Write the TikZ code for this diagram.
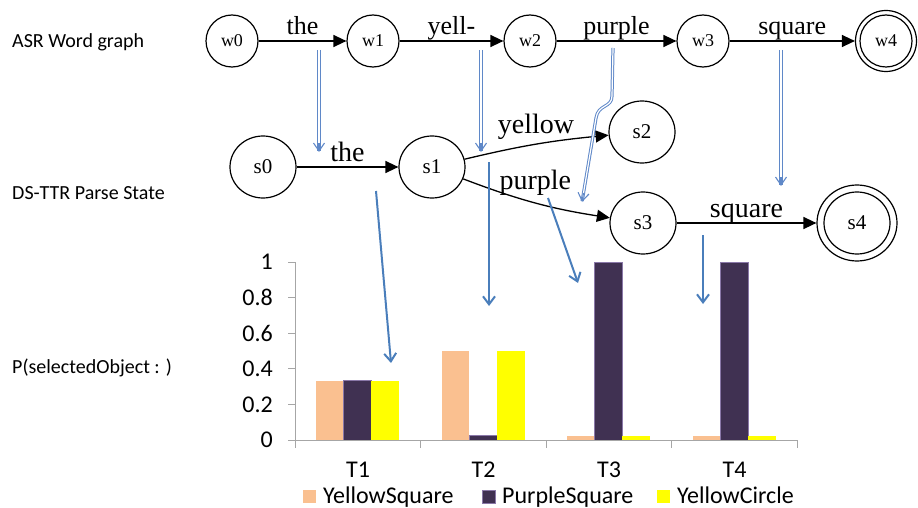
\documentclass[tikz,border=0pt]{standalone}
\usepackage{fontspec}
\setmainfont{Liberation Serif}
\newfontfamily\calfont{Carlito}
\usetikzlibrary{arrows.meta,shapes.geometric,calc}
\definecolor{barA}{HTML}{FAC090}
\definecolor{barB}{HTML}{403152}
\definecolor{barBedge}{HTML}{8A78A8}
\definecolor{barC}{HTML}{FFFF00}
\definecolor{arrblue}{HTML}{4A7EBB}
\definecolor{dblue}{HTML}{5F88C8}
\definecolor{axgray}{HTML}{A6A6A6}
\begin{document}
\begin{tikzpicture}[x=1pt,y=-1pt,
  wst/.style={circle,draw,line width=1.2pt,minimum size=52pt,inner sep=0pt,font=\fontsize{18}{18}\selectfont},
  wouter/.style={circle,draw,line width=1.2pt,minimum size=61pt,inner sep=0pt},
  sst/.style={ellipse,draw,line width=1.2pt,minimum width=66pt,minimum height=62pt,inner sep=0pt,font=\fontsize{21}{21}\selectfont},
  souter/.style={ellipse,draw,line width=1.2pt,minimum width=80pt,minimum height=76pt,inner sep=0pt},
  trans/.style={line width=1.3pt,-{Triangle[length=13pt,width=12pt]}},
  tlbl/.style={anchor=base,inner sep=0pt,font=\fontsize{26}{26}\selectfont},
  mlbl/.style={anchor=base,inner sep=0pt,font=\fontsize{28}{28}\selectfont},
  sidelbl/.style={anchor=base west,inner sep=0pt,font=\calfont\fontsize{20}{20}\selectfont},
  ticklbl/.style={anchor=east,inner sep=0pt,font=\calfont\fontsize{24}{24}\selectfont},
  catlbl/.style={anchor=base,inner sep=0pt,font=\calfont\fontsize{24}{24}\selectfont},
  leglbl/.style={anchor=base west,inner sep=0pt,font=\calfont\fontsize{24}{24}\selectfont},
  axisline/.style={draw=axgray,line width=1pt},
  dbl/.style={draw=dblue,double=white,line width=1pt,double distance=1.2pt,shorten >=1pt},
  dbltip/.style={draw=dblue,line width=1.1pt,-{Straight Barb[length=8pt,width=11pt]}},
  sgl/.style={draw=arrblue,line width=2pt,-{Straight Barb[length=8pt,width=12pt]}}
]
\useasboundingbox (0,0) rectangle (918,508);

% ---------- side labels ----------
\node[sidelbl] (lasr) at (12,48) {ASR Word graph};
\node[sidelbl] (lds) at (12,199) {DS-TTR Parse State};
\node[sidelbl] (lp) at (12,373) {P(selectedObject : )};

% ---------- chart ----------
\draw[axisline] (295,262) -- (295,440);
\foreach \v/\t in {0/0,0.2/0.2,0.4/0.4,0.6/0.6,0.8/0.8,1/1} {
  \draw[axisline] (288,440-178*\v) -- (295,440-178*\v);
  \node[ticklbl] (yt\t) at (273,440-178*\v) {\t};
}
\foreach \cx/\a/\b/\c in {295/0.333/0.333/0.333, 420.5/0.5/0.025/0.5, 546/0.02/1/0.025, 671.5/0.02/1/0.025} {
  \fill[barA] (\cx+21,440) rectangle (\cx+48.7,440-178*\a);
  \filldraw[fill=barB,draw=barBedge,line width=0.6pt] (\cx+48.7,440) rectangle (\cx+76.4,440-178*\b);
  \fill[barC] (\cx+76.4,440) rectangle (\cx+104.1,440-178*\c);
}
\draw[axisline] (295,440) -- (797,440);
\foreach \cx in {295,420.5,546,671.5,797} {
  \draw[axisline] (\cx,440) -- (\cx,448);
}
\node[catlbl] (t1) at (358,477) {T1};
\node[catlbl] (t2) at (483.5,477) {T2};
\node[catlbl] (t3) at (609,477) {T3};
\node[catlbl] (t4) at (734.5,477) {T4};
% legend
\fill[barA] (303,490) rectangle (316,503);
\node[leglbl] (lg1) at (323,503) {YellowSquare};
\filldraw[fill=barB,draw=barBedge,line width=0.6pt] (482,490) rectangle (495,503);
\node[leglbl] (lg2) at (502,503) {PurpleSquare};
\fill[barC] (657,490) rectangle (670,503);
\node[leglbl] (lg3) at (677,503) {YellowCircle};

% ---------- ASR word graph ----------
\node[wst] (w0) at (232,41) {w0};
\node[wst] (w1) at (373,41) {w1};
\node[wst] (w2) at (530,41) {w2};
\node[wst] (w3) at (703,41) {w3};
\node[wst] (w4) at (886,41) {w4};
\node[wouter] (w4o) at (886,41) {};
\draw[trans] (w0) -- node[midway,tlbl,yshift=6pt] (lw1) {the} (w1);
\draw[trans] (w1) -- node[midway,tlbl,yshift=6pt] (lw2) {yell-} (w2);
\draw[trans] (w2) -- node[midway,tlbl,yshift=6pt] (lw3) {purple} (w3);
\draw[trans] (w3) -- node[midway,tlbl,yshift=6pt] (lw4) {square} (w4o);

% ---------- parse states ----------
\node[sst] (s0) at (263,167) {s0};
\node[sst] (s1) at (432,167) {s1};
\node[sst] (s2) at (642,132) {s2};
\node[sst] (s3) at (643,223) {s3};
\node[sst] (s4) at (857,223) {s4};
\node[souter] (s4o) at (857,223) {};
\draw[trans] (s0) -- node[midway,mlbl,yshift=6pt] (ls1) {the} (s1);
\draw[trans] (s1) to[bend left=4] node[midway,mlbl,yshift=11pt] (ls2) {yellow} (s2);
\draw[trans] (s1) to[bend right=6] node[midway,mlbl,yshift=13pt] (ls3) {purple} (s3);
\draw[trans] (s3) -- node[midway,mlbl,yshift=6pt] (ls4) {square} (s4o);

% ---------- blue double arrows (word -> state) ----------
\coordinate (a1s) at (319,50);  \coordinate (a1e) at (319,152);
\coordinate (a2s) at (481,50);  \coordinate (a2e) at (481,152);
\coordinate (a3s) at (613,48);  \coordinate (a3m) at (596,118); \coordinate (a3e) at (582,202);
\coordinate (a4s) at (781,50);  \coordinate (a4e) at (781,186);
\draw[dbl] (a1s) -- (a1e);
\draw[dbltip] ($(a1e)!9pt!(a1s)$) -- (a1e);
\draw[dbl] (a2s) -- (a2e);
\draw[dbltip] ($(a2e)!9pt!(a2s)$) -- (a2e);
\draw[dbl] (a3s) -- (612,96) .. controls (612,108) and (598,104) .. (a3m) -- (a3e);
\draw[dbltip] ($(a3e)!9pt!(a3m)$) -- (a3e);
\draw[dbl] (a4s) -- (a4e);
\draw[dbltip] ($(a4e)!9pt!(a4s)$) -- (a4e);

% ---------- blue arrows (state -> distribution) ----------
\coordinate (b1s) at (376,191); \coordinate (b1e) at (391,363);
\coordinate (b2s) at (489,162); \coordinate (b2e) at (489,306);
\coordinate (b3s) at (548,198); \coordinate (b3e) at (578,283);
\coordinate (b4s) at (703,235); \coordinate (b4e) at (703,304);
\draw[sgl] (b1s) -- (b1e);
\draw[sgl] (b2s) -- (b2e);
\draw[sgl] (b3s) -- (b3e);
\draw[sgl] (b4s) -- (b4e);
\end{tikzpicture}
\end{document}
